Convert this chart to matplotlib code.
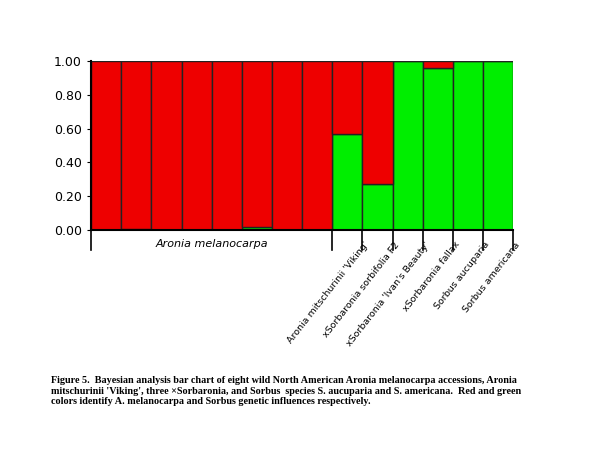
import matplotlib
matplotlib.use("Agg")
import matplotlib.pyplot as plt
import numpy as np

green = [0.0, 0.005, 0.0, 0.0, 0.0, 0.02, 0.0, 0.0, 0.57, 0.27, 1.0, 0.96, 1.0, 1.0]
red = [1 - g for g in green]
labels = ["Aronia mitschurinii 'Viking'", "xSorbaronia sorbifolia F2", "xSorbaronia 'Ivan's Beauty'",
          "xSorbaronia fallax", "Sorbus aucuparia", "Sorbus americana"]
yticks = [0.0, 0.2, 0.4, 0.6, 0.8, 1.0]

fig = plt.figure(figsize=(6.03, 4.67), dpi=100)
ax = fig.add_axes([0.151, 0.5075, 0.70, 0.3615])
x = np.arange(len(green))
ax.bar(x, green, width=1.0, color="#00ee00", edgecolor="#222222", linewidth=1.0, align="edge")
ax.bar(x, red, bottom=green, width=1.0, color="#ee0000", edgecolor="#222222", linewidth=1.0, align="edge")
ax.set_xlim(0, len(green))
ax.set_ylim(0, 1.0)
ax.set_yticks(yticks)
ax.set_yticklabels([f"{t:.2f}" for t in yticks], fontsize=9)
ax.set_xticks([])
for s in ["top", "right"]:
    ax.spines[s].set_visible(False)
ax.spines["bottom"].set_linewidth(1.5)
ax.spines["left"].set_linewidth(1.5)
ax.tick_params(axis="y", length=3)

for b in [0, 8, 9, 10, 11, 12, 13, 14]:
    ax.plot([b, b], [0, -0.12], color="black", lw=1.2, clip_on=False)
ax.text(4, -0.08, "Aronia melanocarpa", ha="center", va="center", fontsize=8, style="italic")
for i, lab in enumerate(labels):
    ax.text(9 + i + 0.05, -0.06, lab, rotation=52, ha="right", va="top", fontsize=6.8,
            rotation_mode="anchor")

fig.text(0.085, 0.195,
         "Figure 5.  Bayesian analysis bar chart of eight wild North American Aronia melanocarpa accessions, Aronia\n"
         "mitschurinii 'Viking', three \u00d7Sorbaronia, and Sorbus  species S. aucuparia and S. americana.  Red and green\n"
         "colors identify A. melanocarpa and Sorbus genetic influences respectively.",
         fontsize=7.3, fontweight="bold", family="Liberation Serif", va="top", ha="left", linespacing=1.25)
fig.savefig("out.png", dpi=100)
